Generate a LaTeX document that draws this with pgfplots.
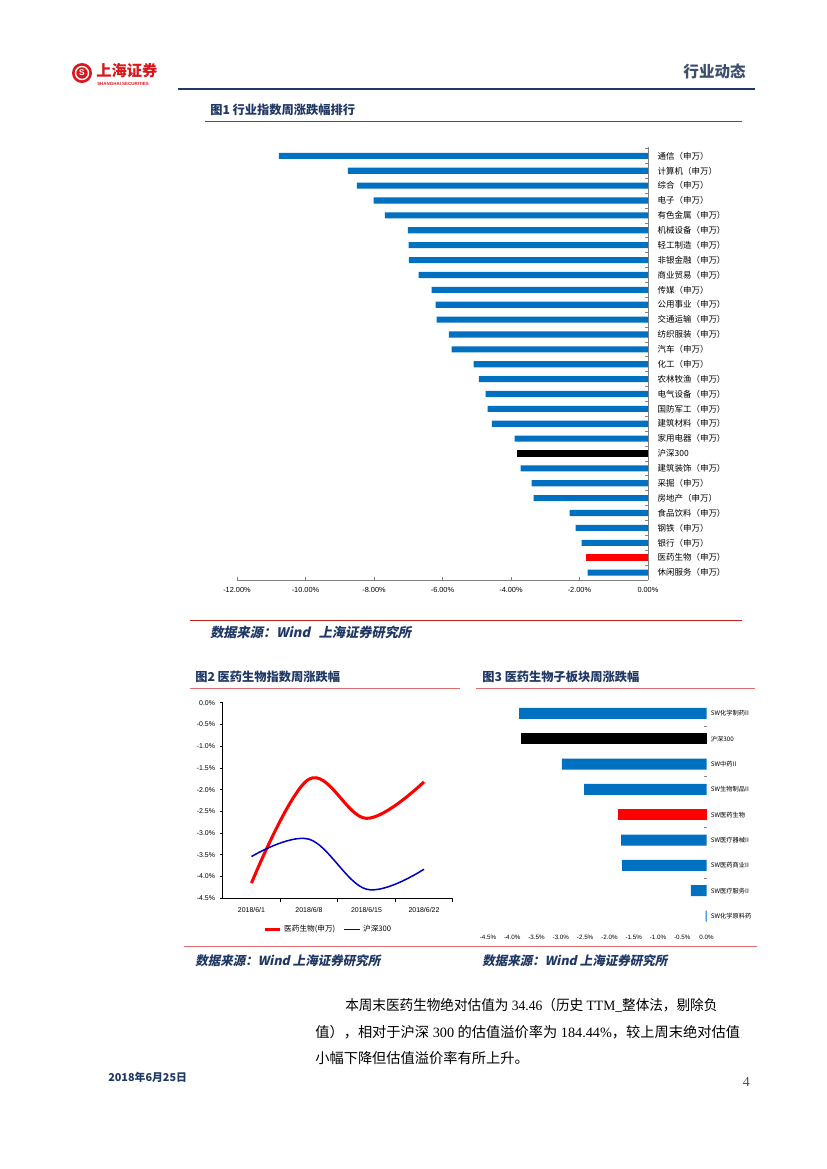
\documentclass[border=0pt]{standalone}
\usepackage{fontspec}
\setmainfont{Liberation Serif}
\newfontfamily\cjk{Noto Sans CJK SC}
\newfontfamily\cjksl{Noto Sans CJK SC}[FakeSlant=0.2]
\newfontfamily\arial{Liberation Sans}
\usepackage{graphicx}
\usepackage{pgfplots}
\pgfplotsset{compat=1.18}
\definecolor{barblue}{HTML}{0070C0}
\definecolor{navy}{RGB}{31,56,100}
\definecolor{hdr}{RGB}{60,80,110}
\definecolor{rule1}{RGB}{200,30,30}
\definecolor{rule2}{RGB}{225,110,110}
\definecolor{logored}{RGB}{215,25,30}
\def\u{0.7198pt}
\begin{document}
\begin{tikzpicture}
\begin{scope}[x=\u,y=\u]
\path[fill=white] (0,0) rectangle (827,-1169);
% header
\fill[logored] (82,-73) circle (10);
\draw[white,line width=1pt] (82,-73) circle (6.5);
\node[text=white,font=\arial\bfseries\fontsize{6}{6}\selectfont] at (82,-73) {S};
\node[anchor=west,text=logored,inner sep=0pt,font=\cjk\bfseries\fontsize{11}{11}\selectfont] at (96,-71) {上海证券};
\node[anchor=west,text=logored,inner sep=0pt,font=\arial\bfseries\fontsize{3.2}{3.2}\selectfont] at (97,-84) {SHANGHAI SECURITIES};
\node[anchor=east,text=hdr,inner sep=0pt,font=\cjk\bfseries\fontsize{11.2}{12}\selectfont] at (746,-71) {行业动态};
\draw[navy,line width=1.6pt] (178,-89) -- (755,-89);
% chart 1 frame
\node[anchor=west,text=navy,inner sep=0pt,font=\cjk\bfseries\fontsize{8.8}{9}\selectfont] at (210,-110) {图1 行业指数周涨跌幅排行};
\draw[rule1,line width=0.7pt] (205,-121) -- (742,-121);
\draw[rule1,line width=0.7pt] (190,-620) -- (742,-620);
\node[anchor=west,text=navy,inner sep=0pt,font=\cjksl\bfseries\fontsize{9.5}{10}\selectfont] at (210,-632) {数据来源：Wind\hspace{4pt} 上海证券研究所};
% chart 2/3 frame
\node[anchor=west,text=navy,inner sep=0pt,font=\cjk\bfseries\fontsize{8.8}{9}\selectfont] at (195,-677) {图2 医药生物指数周涨跌幅};
\node[anchor=west,text=navy,inner sep=0pt,font=\cjk\bfseries\fontsize{8.8}{9}\selectfont] at (482,-677) {图3 医药生物子板块周涨跌幅};
\draw[rule2,line width=0.7pt] (190,-688) -- (460,-688);
\draw[rule2,line width=0.7pt] (476,-688) -- (755,-688);
\draw[rule2,line width=0.7pt] (184,-946) -- (757,-946);
\node[anchor=west,text=navy,inner sep=0pt,font=\cjksl\bfseries\fontsize{9}{10}\selectfont] at (195,-961) {数据来源：Wind 上海证券研究所};
\node[anchor=west,text=navy,inner sep=0pt,font=\cjksl\bfseries\fontsize{9}{10}\selectfont] at (482,-961) {数据来源：Wind 上海证券研究所};
% body text
\node[anchor=base west,inner sep=0pt,font=\fontsize{10.25}{12}\selectfont] at (345,-1010) {\scalebox{0.955}[1]{{\cjk 本周末医药生物绝对估值为} 34.46{\cjk （历史} TTM\_{\cjk 整体法，剔除负}}};
\node[anchor=base west,inner sep=0pt,font=\fontsize{10.25}{12}\selectfont] at (315,-1037) {{\cjk 值），相对于沪深} 300 {\cjk 的估值溢价率为} 184.44\%{\cjk ，较上周末绝对估值}};
\node[anchor=base west,inner sep=0pt,font=\fontsize{10.25}{12}\selectfont] at (315,-1063) {{\cjk 小幅下降但估值溢价率有所上升。}};
% footer
\node[anchor=west,text=navy,inner sep=0pt,font=\cjk\bfseries\fontsize{7.8}{8}\selectfont] at (108,-1077) {2018年6月25日};
\node[anchor=east,text=hdr,inner sep=0pt,font=\fontsize{10}{10}\selectfont] at (750,-1082) {4};
\end{scope}

% chart 1
\begin{axis}[
  at={(237*\u,-580*\u)}, anchor=south west, scale only axis,
  width=295.8pt, height=311.7pt,
  xbar, bar shift=0pt, bar width=4.4pt,
  xmin=-12, xmax=0, ymin=-0.5, ymax=28.6,
  axis x line*=bottom, axis y line*=right,
  axis line style={gray, line width=0.6pt},
  xtick={-12,-10,-8,-6,-4,-2,0},
  xticklabels={-12.00\%,-10.00\%,-8.00\%,-6.00\%,-4.00\%,-2.00\%,0.00\%},
  xticklabel style={font=\arial\fontsize{5.3}{6}\selectfont, yshift=-2pt},
  ytick={0,...,28},
  yticklabels={休闲服务（申万）,医药生物（申万）,银行（申万）,钢铁（申万）,食品饮料（申万）,房地产（申万）,采掘（申万）,建筑装饰（申万）,沪深300,家用电器（申万）,建筑材料（申万）,国防军工（申万）,电气设备（申万）,农林牧渔（申万）,化工（申万）,汽车（申万）,纺织服装（申万）,交通运输（申万）,公用事业（申万）,传媒（申万）,商业贸易（申万）,非银金融（申万）,轻工制造（申万）,机械设备（申万）,有色金属（申万）,电子（申万）,综合（申万）,计算机（申万）,通信（申万）},
  yticklabel style={font=\cjk\fontsize{6.1}{6}\selectfont, anchor=west, inner sep=0pt, xshift=6.8pt},
  minor ytick={-0.5,0.5,...,28.5},
  tick align=inside, major tick length=2pt, minor tick length=2pt,
  major y tick style={draw=none}, minor y tick style={gray, line width=0.5pt},
  major x tick style={gray, line width=0.5pt},
  clip=false,
]
\addplot[fill=barblue, draw=none] coordinates {
  (-10.78,28) (-8.76,27) (-8.50,26) (-8.01,25) (-7.68,24) (-7.01,23) (-6.99,22)
  (-6.98,21) (-6.70,20) (-6.32,19) (-6.20,18) (-6.17,17) (-5.81,16) (-5.73,15)
  (-5.09,14) (-4.94,13) (-4.74,12) (-4.68,11) (-4.56,10) (-3.89,9)
  (-3.72,7) (-3.40,6) (-3.34,5) (-2.29,4) (-2.11,3) (-1.94,2) (-1.76,0)};
\addplot[fill=black, draw=none, bar width=5pt] coordinates {(-3.83,8)};
\addplot[fill=red, draw=none, bar width=5pt] coordinates {(-1.82,1)};
\end{axis}

% chart 2
\begin{axis}[
  at={(222.7*\u,-898.3*\u)}, anchor=south west, scale only axis,
  width=165.6pt, height=140.8pt,
  xmin=-0.5, xmax=3.5, ymin=-4.5, ymax=0,
  axis x line*=bottom, axis y line*=left,
  axis line style={black, line width=0.6pt},
  xtick={0,1,2,3},
  xticklabels={2018/6/1,2018/6/8,2018/6/15,2018/6/22},
  minor xtick={0.5,1.5,2.5,3.5},
  major x tick style={draw=none},
  ytick={-4.5,-4,-3.5,-3,-2.5,-2,-1.5,-1,-0.5,0},
  yticklabels={-4.5\%,-4.0\%,-3.5\%,-3.0\%,-2.5\%,-2.0\%,-1.5\%,-1.0\%,-0.5\%,0.0\%},
  tick align=outside, major tick length=2pt, minor tick length=2.5pt,
  tick style={black, line width=0.5pt},
  ticklabel style={font=\arial\fontsize{5}{6}\selectfont},
  xticklabel style={yshift=-1pt},
  legend style={at={(0.46,-0.16)}, anchor=center, draw=none, fill=none,
    legend columns=2, font=\cjk\fontsize{5.5}{6}\selectfont,
    /tikz/every even column/.append style={column sep=4pt}},
  legend image code/.code={\draw[#1] (0pt,0pt) -- (11pt,0pt);},
  clip=false,
]
\addplot[red, line width=2.2pt, smooth, tension=0.6] coordinates {(0,-4.15) (1,-1.76) (2,-2.66) (3,-1.82)};
\addlegendentry{医药生物(申万)}
\addplot[blue!75!black, line width=1.1pt, smooth, tension=0.6] coordinates {(0,-3.54) (1,-3.14) (2,-4.29) (3,-3.83)};
\addlegendentry{沪深300}
\end{axis}

% chart 3
\begin{axis}[
  at={(488*\u,-928.7*\u)}, anchor=south west, scale only axis,
  width=157.3pt, height=165pt,
  xbar, bar shift=0pt, bar width=7.9pt,
  xmin=-4.5, xmax=0, ymin=-0.5, ymax=8.55,
  axis x line*=bottom, axis y line*=right,
  axis line style={draw=none},
  xtick={-4.5,-4,-3.5,-3,-2.5,-2,-1.5,-1,-0.5,0},
  xticklabels={-4.5\%,-4.0\%,-3.5\%,-3.0\%,-2.5\%,-2.0\%,-1.5\%,-1.0\%,-0.5\%,0.0\%},
  xticklabel style={font=\arial\fontsize{4.5}{5}\selectfont, yshift=-1pt},
  ytick={0,...,8},
  yticklabels={SW化学原料药,SW医疗服务II,SW医药商业II,SW医疗器械II,SW医药生物,SW生物制品II,SW中药II,沪深300,SW化学制药II},
  yticklabel style={font=\cjk\fontsize{4.5}{5}\selectfont, anchor=west, inner sep=0pt, xshift=3pt},
  minor ytick={1.5,3.5,5.5,7.5},
  tick align=inside, major tick length=0pt, minor tick length=1.5pt,
  minor y tick style={gray, line width=0.4pt},
  clip=false,
]
\addplot[fill=barblue, draw=none] coordinates {
  (-3.86,8) (-2.98,6) (-2.52,5) (-1.76,3) (-1.74,2) (-0.32,1) (-0.02,0)};
\addplot[fill=black, draw=none] coordinates {(-3.83,7)};
\addplot[fill=red, draw=none] coordinates {(-1.82,4)};
\end{axis}
\end{tikzpicture}
\end{document}
